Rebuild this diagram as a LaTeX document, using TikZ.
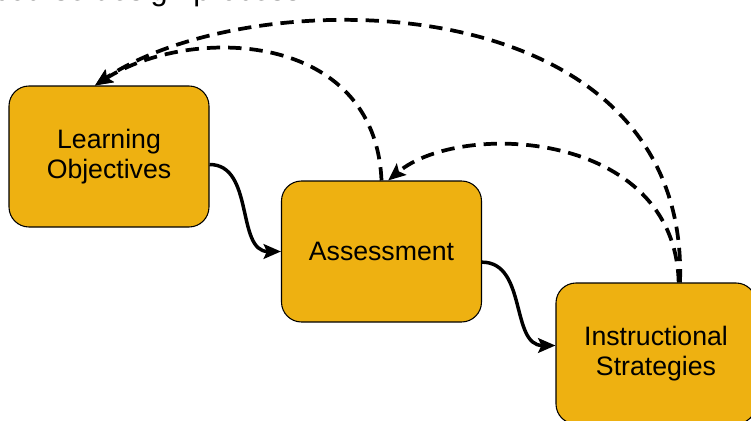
\documentclass[tikz,border=0pt]{standalone}
\usepackage{fontspec}
\setmainfont{Liberation Sans}
\usetikzlibrary{arrows.meta}
\definecolor{boxfill}{HTML}{EEB111}
\begin{document}
\begin{tikzpicture}[x=0.75pt,y=-0.75pt,
  box/.style={draw=black, line width=0.8pt, fill=boxfill, rounded corners=15pt,
    minimum width=150pt, minimum height=105.75pt, align=center,
    font=\fontsize{20}{22}\selectfont, inner sep=0pt},
  flow/.style={line width=2.6pt, -{Stealth[length=13pt,width=11pt,inset=2.5pt]}},
  back/.style={flow, line width=2.8pt, dash pattern=on 10pt off 6pt}]
\useasboundingbox (0,0) rectangle (751,421);
\node[anchor=base east, inner sep=0pt, font=\fontsize{23}{27}\selectfont] (title) at (301,1) {course design process};
\node[box] (lo) at (109,156.5) {Learning\\Objectives};
\node[box] (as) at (381.5,251.5) {Assessment};
\node[box] (is) at (656,353.5) {Instructional\\Strategies};
\draw[flow] ([yshift=-6pt]lo.east) .. controls +(45,0) and +(-45,0) .. (as.west);
\draw[flow] ([yshift=-8pt]as.east) .. controls +(45,0) and +(-45,0) .. ([yshift=6pt]is.west);
\draw[back] (as.north) .. controls (375,30) and (190,25) .. ([xshift=-10.5pt]lo.north);
\draw[back] ([xshift=18pt]is.north) .. controls (690,-20) and (250,-20) .. ([xshift=-10.5pt]lo.north);
\draw[back] ([xshift=17pt]is.north) .. controls (675,130) and (460,120) .. ([xshift=5pt]as.north);
\end{tikzpicture}
\end{document}
